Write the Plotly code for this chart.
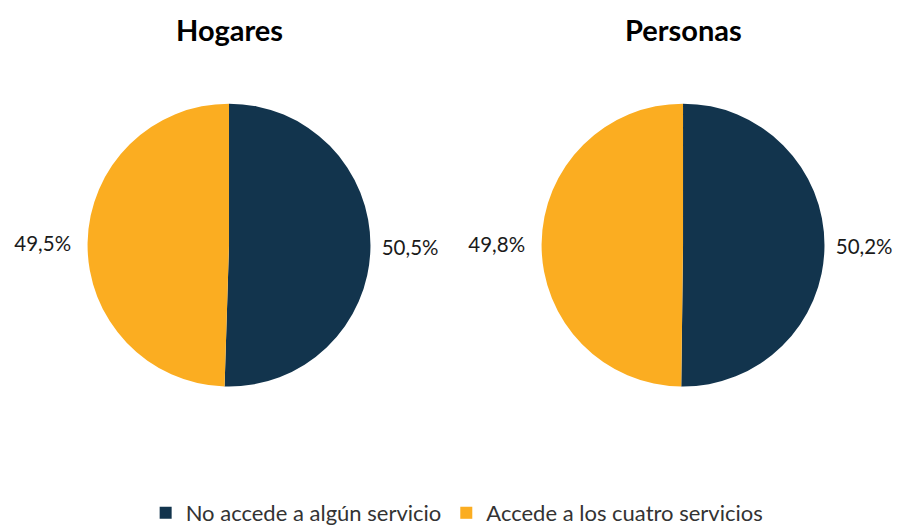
import plotly.graph_objects as go

categories = ["No accede a algún servicio", "Accede a los cuatro servicios"]
hogares = [50.5, 49.5]
personas = [50.2, 49.8]
panel_titles = ["Hogares", "Personas"]
colors = ["#12344d", "#fbad21"]

# the page body has an 8px margin, so positions are shifted back by 8px
fig = go.Figure()
domains = [[0.0877, 0.4029], [0.5916, 0.9068]]
for vals, dom, show in [(hogares, domains[0], True), (personas, domains[1], False)]:
    fig.add_trace(go.Pie(
        labels=categories, values=vals, sort=False, direction="clockwise", rotation=0,
        marker=dict(colors=colors), textposition="outside",
        # padding on the pie side only, to push labels a bit further out
        texttemplate=["\u00a0%{percent:.1%}", "%{percent:.1%}\u00a0\u00a0"],
        textfont=dict(size=20.5, color="#1a1a1a", family="Lato"),
        domain=dict(x=dom, y=[0.2776, 0.8175]), showlegend=show, hoverinfo="label+percent",
    ))

for t, dom in zip(panel_titles, domains):
    fig.add_annotation(text=f"<b>{t}</b>", x=(dom[0] + dom[1]) / 2, y=1 - 22 / 526,
                       xref="paper", yref="paper", xanchor="center", yanchor="middle",
                       showarrow=False, font=dict(size=29, color="#000000", family="Lato"))

fig.update_layout(
    width=901, height=526, margin=dict(l=0, r=0, t=0, b=0),
    paper_bgcolor="white", plot_bgcolor="white", separators=",.",
    legend=dict(orientation="h", x=0.4985, xanchor="center", y=1 - 507 / 526, yanchor="middle",
                font=dict(size=22, color="#333333", family="Lato"), itemwidth=30),
)
fig.write_html("out.html")
